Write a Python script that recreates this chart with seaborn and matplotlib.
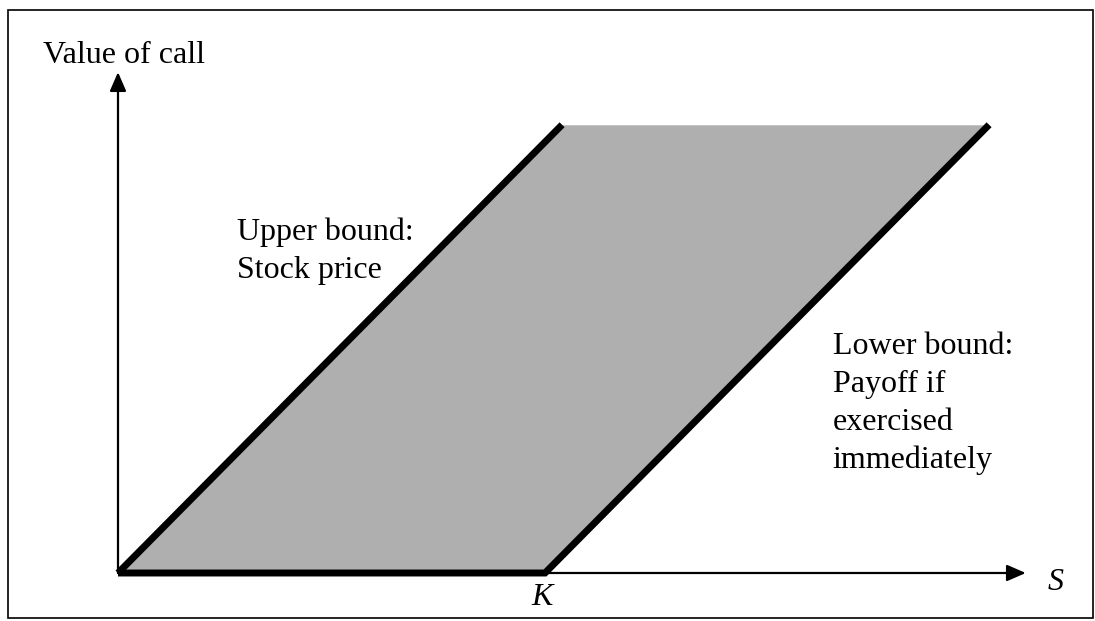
import matplotlib
matplotlib.use("Agg")
import matplotlib.pyplot as plt
import seaborn as sns
import pandas as pd
from matplotlib.patches import Rectangle

# ---- data ----
strike_K = 100
band_top = 104
s_grid = [0, 100, 104, 204]
upper_vals = [0, 100, 104, 104]
lower_vals = [0, 0, 4, 104]
upper_S = [0, 104]
upper_V = [0, 104]
lower_S = [0, 100, 204]
lower_V = [0, 0, 104]
x_axis_end = 212.6
y_axis_end = 116.2
y_label = "Value of call"
x_label = "S"
k_label = "K"
upper_label_lines = ["Upper bound:", "Stock price"]
lower_label_lines = ["Lower bound:", "Payoff if", "exercised", "immediately"]

sns.set_theme(style="white")
plt.rcParams["font.family"] = ["Liberation Serif", "DejaVu Serif"]
plt.rcParams["text.color"] = "black"

fig = plt.figure(figsize=(10.95, 6.21), dpi=100)
ax = fig.add_axes([0, 0, 1, 1])
ax.set_axis_off()

sx, sy = 4.27, 4.31
ax.set_xlim(-118 / sx, (1095 - 118) / sx)
ax.set_ylim(-(621 - 573) / sy, 573 / sy)

# shaded region
ax.fill_between(s_grid, lower_vals, upper_vals, color="#afafaf", linewidth=0, zorder=1)

# axes arrows
arrow_kw = dict(arrowstyle="-|>,head_length=1.15,head_width=0.5", color="black",
                lw=1.6, shrinkA=0, shrinkB=0, mutation_scale=10)
ax.annotate("", xy=(x_axis_end, 0), xytext=(0, 0), arrowprops=arrow_kw, zorder=2)
ax.annotate("", xy=(0, y_axis_end), xytext=(0, 0), arrowprops=arrow_kw, zorder=2)

# bounds
up_df = pd.DataFrame({"S": upper_S, "V": upper_V})
lo_df = pd.DataFrame({"S": lower_S, "V": lower_V})
sns.lineplot(data=up_df, x="S", y="V", sort=False, estimator=None, ax=ax,
             color="black", lw=5, solid_capstyle="butt", zorder=3)
sns.lineplot(data=lo_df, x="S", y="V", sort=False, estimator=None, ax=ax,
             color="black", lw=5, solid_capstyle="butt", solid_joinstyle="miter", zorder=3)

fs = 23
tc = "black"
ax.text(-17.6, 118.3, y_label, fontsize=fs, ha="left", va="baseline", color=tc)
for i, line in enumerate(upper_label_lines):
    ax.text(27.9, 77.3 - i * 38 / sy, line, fontsize=fs, ha="left", va="baseline", color=tc)
for i, line in enumerate(lower_label_lines):
    ax.text(167.4, 50.8 - i * 38 / sy, line, fontsize=fs, ha="left", va="baseline", color=tc)
ax.text(strike_K - 0.7, -7.4, k_label, fontsize=fs, style="italic", ha="center",
        va="baseline", color=tc)
ax.text(219.7, -3.9, x_label, fontsize=fs, style="italic", ha="center",
        va="baseline", color=tc)

# frame around the figure
fig.patches.append(Rectangle((8 / 1095, 3 / 621), 1085 / 1095, 608 / 621,
                             transform=fig.transFigure, fill=False,
                             edgecolor="black", lw=1.2, zorder=5))

fig.savefig("out.png", dpi=100)
